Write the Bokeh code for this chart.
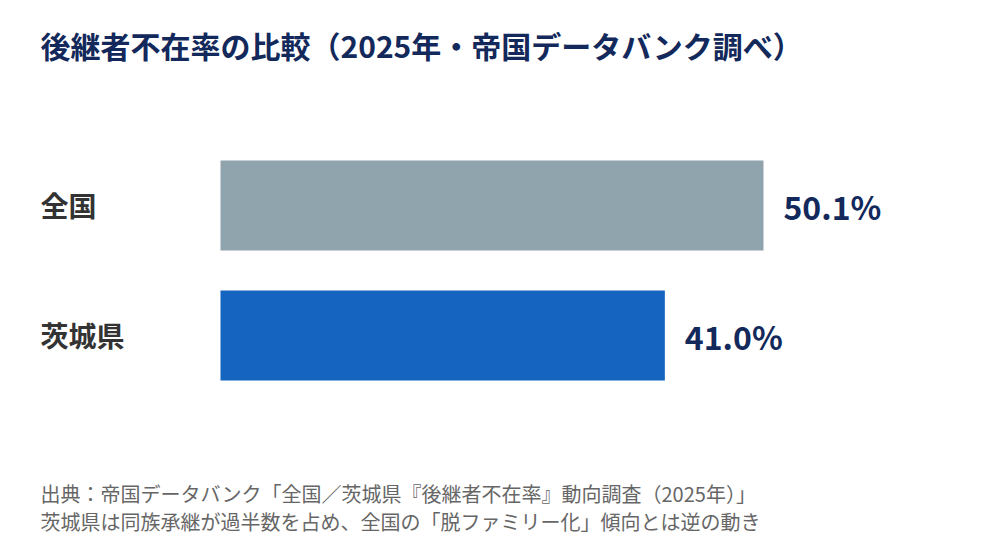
from bokeh.plotting import figure
from bokeh.models import Range1d, Label, ColumnDataSource
from bokeh.core.properties import value
from bokeh.embed import file_html
from bokeh.resources import INLINE

categories = ["全国", "茨城県"]
rates = [50.1, 41.0]
bar_colors = ["#90a4ae", "#1565c0"]
value_labels = ["50.1%", "41.0%"]
title_text = "後継者不在率の比較（2025年・帝国データバンク調べ）"
notes = [
    "出典：帝国データバンク「全国／茨城県『後継者不在率』動向調査（2025年）」",
    "茨城県は同族承継が過半数を占め、全国の「脱ファミリー化」傾向とは逆の動き",
]

FONT = "Noto Sans CJK JP"
W, H = 984, 544
PX_PER_UNIT = 10.838
X0 = 220  # canvas px of value 0
ROW = 130.0
FIRST_CENTER = 205.0

x_start = -X0 / PX_PER_UNIT
x_end = x_start + W / PX_PER_UNIT
y_top = -FIRST_CENTER / ROW
y_bottom = y_top + H / ROW

p = figure(width=W, height=H, output_backend="svg", toolbar_location=None,
           x_range=Range1d(x_start, x_end), y_range=Range1d(y_bottom, y_top),
           min_border=0, min_border_left=0, min_border_right=0,
           min_border_top=0, min_border_bottom=0)
p.axis.visible = False
p.xgrid.visible = False
p.ygrid.visible = False
p.outline_line_color = None
p.background_fill_color = "white"
p.border_fill_color = "white"

idx = list(range(len(categories)))
src = ColumnDataSource(dict(y=idx, right=rates, color=bar_colors, cat=categories, val=value_labels))

p.hbar(y="y", left=0, right="right", height=90 / ROW, fill_color="color",
       line_color=None, source=src)

p.text(x=0, y="y", text="cat", source=src, x_offset=-180, y_offset=-1, text_align="left",
       text_baseline="middle", text_font=value(FONT), text_font_style="bold",
       text_font_size="28px", text_color="#333333")

p.text(x="right", y="y", text="val", source=src, x_offset=20, text_align="left",
       text_baseline="middle", text_font=value(FONT), text_font_style="bold",
       text_font_size="32px", text_color="#13295b")

p.add_layout(Label(x=40, y=H - 44, x_units="screen", y_units="screen", text=title_text,
                   text_font=FONT, text_font_style="bold", text_font_size="30px",
                   text_color="#13295b", text_baseline="middle", text_align="left"))

for i, t in enumerate(notes):
    p.add_layout(Label(x=40, y=H - (493 + 28 * i), x_units="screen", y_units="screen",
                       text=t, text_font=FONT, text_font_size="20px",
                       text_color="#666666", text_baseline="middle", text_align="left"))

open("out.html", "w").write(file_html(p, INLINE))
